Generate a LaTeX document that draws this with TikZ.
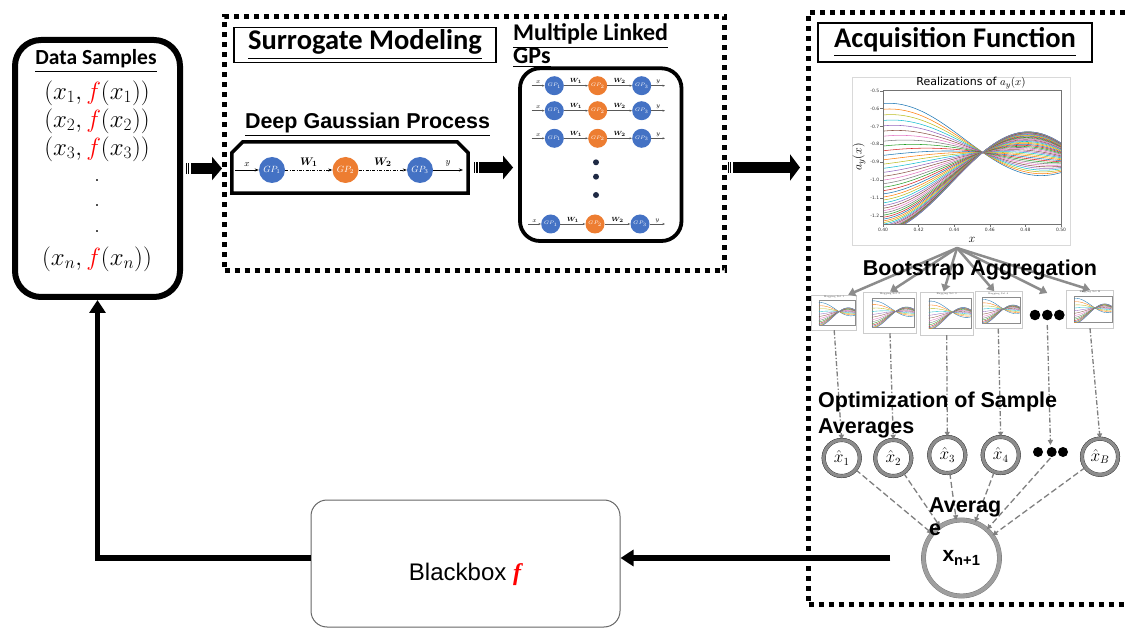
\documentclass[tikz,border=0pt]{standalone}
\usepackage{amsmath,amssymb,bm}
\usepackage{fontspec}
\usetikzlibrary{arrows.meta}
\usetikzlibrary{decorations.markings}

\newfontfamily\calibrifont{Carlito}
\newfontfamily\arialfont{Liberation Sans}
\newfontfamily\timesfont{Liberation Serif}
\newfontfamily\mplfont{DejaVu Sans}

\definecolor{gpblue}{HTML}{4472C4}
\definecolor{gporange}{HTML}{ED7D31}
\definecolor{gpdots}{HTML}{1F2A44}
\definecolor{mpl0}{HTML}{1F77B4}
\definecolor{mpl1}{HTML}{FF7F0E}
\definecolor{mpl2}{HTML}{BCBD22}
\definecolor{mpl3}{HTML}{17BECF}
\definecolor{mpl4}{HTML}{9467BD}
\definecolor{mpl5}{HTML}{8C564B}
\definecolor{mpl6}{HTML}{E377C2}
\definecolor{mpl7}{HTML}{7F7F7F}
\definecolor{mpl8}{HTML}{2CA02C}
\definecolor{mpl9}{HTML}{D62728}

% family of sample curves, all through one point
\newcommand{\realcurves}[2]{%
  \foreach \i in {0,...,#1}{%
    \pgfmathsetmacro\rt{1-(1-\i/#1)^2}%
    \pgfmathsetmacro\rca{-0.189+0.4165*\rt}%
    \pgfmathsetmacro\rcb{0.0725-0.24*\rt}%
    \pgfmathtruncatemacro\rk{mod(\i,10)}%
    \draw[draw=mpl\rk, line width=#2] plot[domain=-1.12:0.88, samples=30, smooth]
      (\x, {\rca*sin(1.837*(\x) r)+\rcb*(1-cos(1.837*(\x) r))});%
  }}

% small bagging chart inside a thumbnail node
\newcommand{\minichart}[4]{%
  \node[font=\fontsize{2.4}{3}\selectfont, text=black!70] at ([yshift=-2.4pt]#1.north) {#4};
  \pgfmathsetmacro\mcx{0.4*#2}
  \pgfmathsetmacro\mcy{0.94*#3}
  \pgfmathsetmacro\mdx{0.108*#2}
  \pgfmathsetmacro\mdy{0.026*#3}
  \begin{scope}[shift={(#1.center)}, xshift=\mdx pt, yshift=\mdy pt, x=\mcx pt, y=\mcy pt]
    \draw[black!45, line width=0.2pt] (-1.12,-0.4007) rectangle (0.88,0.345);
    \clip (-1.12,-0.4007) rectangle (0.88,0.345);
    \realcurves{14}{0.35pt}
  \end{scope}}

\tikzset{
  dashbox/.style={draw, line width=5pt, dash pattern=on 5pt off 5pt},
  titlebox/.style={draw, line width=1.5pt, font=\calibrifont\bfseries\fontsize{28.5}{30}\selectfont},
  calibrihead/.style={font=\calibrifont\bfseries\fontsize{#1}{#1}\selectfont},
  arialhead/.style={font=\arialfont\bfseries\fontsize{21.5}{24}\selectfont},
  sample/.style={font=\fontsize{24}{24}\selectfont},
  gpnode/.style={circle, fill=#1, text=white, minimum size=26pt, font=\fontsize{9}{9}\selectfont},
  smallgp/.style={circle, fill=#1, text=white, minimum size=19pt, font=\fontsize{5.5}{5.5}\selectfont},
  gplink/.style={line width=0.6pt, -{Stealth[length=4pt, width=3pt]}},
  gpdashdot/.style={gplink, dash pattern=on 3pt off 1.5pt on 0.8pt off 1.5pt},
  lglink/.style={draw=black!65, line width=0.5pt, -{Stealth[length=2.5pt, width=2pt]}},
  lgtext/.style={font=\fontsize{6.5}{6.5}\selectfont},
  stripedarrow/.style={line width=11pt, -{Triangle[length=10pt, width=#1]},
    postaction={decorate, decoration={markings,
      mark=at position 1.2pt with {\fill[white] (-0.7pt,-6pt) rectangle (0.7pt,6pt);},
      mark=at position 4pt with {\fill[white] (-0.7pt,-6pt) rectangle (0.7pt,6pt);}}}},
  fanarrow/.style={draw=black!45, line width=2.5pt, -{Triangle[length=7pt, width=9pt]}},
  bagarrow/.style={draw=black!50, line width=1.3pt, dash pattern=on 5pt off 2pt on 1.3pt off 2pt, -{Triangle[length=5pt, width=5pt]}},
  avgarrow/.style={draw=black!50, line width=1.3pt, dash pattern=on 6pt off 3pt, -{Triangle[length=5pt, width=5pt]}},
  xhat/.style={circle, draw=black!75, double=black!45, double distance=3.2pt, fill=white, minimum size=36pt, font=\fontsize{16}{16}\selectfont},
  bigcirc/.style={circle, draw=black!55, double=black!38, double distance=4pt, fill=white, minimum size=76pt},
  thumb/.style={draw=black!20, line width=0.5pt, fill=white},
  fback/.style={line width=5.5pt, -{Triangle[length=13pt, width=16pt]}},
  tick/.style={font=\mplfont\fontsize{4.5}{5}\selectfont, text=black!80},
}

\begin{document}
\begin{tikzpicture}[x=1pt, y=-1pt, every node/.style={inner sep=0pt}]
  \useasboundingbox (0,0) rectangle (1128,628);

  % dashed frames
  \node[dashbox, minimum width=500pt, minimum height=254pt] (surr) at (474.5,143.5) {};
  \node[dashbox, minimum width=332pt, minimum height=592pt] (acq) at (974.5,308.5) {};

  % data samples
  \node[draw, line width=6pt, rounded corners=26pt, minimum width=165pt, minimum height=257pt] (data) at (97.5,168.5) {};
  \node[calibrihead=21.5] (datatitle) at (96,61) {\underline{Data Samples}};
  \foreach \k/\yy in {1/93, 2/121, 3/149}
    \node[sample] (s\k) at (97,\yy) {$(x_{\k},\textcolor{red}{f}(x_{\k}))$};
  \foreach \k/\yy in {1/181, 2/206, 3/232}
    \node[sample] (dot\k) at (97,\yy) {.};
  \node[sample] (sn) at (97,259) {$(x_n,\textcolor{red}{f}(x_n))$};

  % surrogate modeling
  \node[titlebox, minimum width=262pt, minimum height=35pt] (surrtitle) at (365,45) {\underline{Surrogate Modeling}};
  \node[calibrihead=24, anchor=base west] (mlgp1) at (513,40.7) {\underline{Multiple Linked}};
  \node[calibrihead=24, anchor=base west] (mlgp2) at (513,63.3) {\underline{GPs}};
  \node[arialhead] (dgptitle) at (367.5,125) {\underline{Deep Gaussian Process}};

  %% deep gaussian process
  \node[minimum width=236pt, minimum height=51pt] (dgp) at (350,167.5) {};
  \draw[line width=3.5pt, line join=miter] ([yshift=-11pt]dgp.north west) -- ([xshift=11pt]dgp.north west)
    -- ([xshift=-11pt]dgp.north east) -- ([yshift=-11pt]dgp.north east) -- (dgp.south east) -- (dgp.south west) -- cycle;
  \node[gpnode=gpblue] (g1) at (272,170) {$GP_1$};
  \node[gpnode=gporange] (g2) at (345.5,170) {$GP_2$};
  \node[gpnode=gpblue] (g3) at (420,170) {$GP_3$};
  \coordinate (gin) at (235,170);
  \coordinate (gout) at (463,170);
  \draw[gplink] (gin) -- node[above=3pt, font=\fontsize{9}{9}\selectfont] (gxlab) {$x$} (g1);
  \draw[gpdashdot] (g1) -- node[above=3pt, font=\fontsize{11}{11}\selectfont] (gw1) {$\bm{W}_{\bm{1}}$} (g2);
  \draw[gpdashdot] (g2) -- node[above=3pt, font=\fontsize{11}{11}\selectfont] (gw2) {$\bm{W}_{\bm{2}}$} (g3);
  \draw[gplink] (g3) -- node[above=3pt, font=\fontsize{9}{9}\selectfont] (gylab) {$y$} (gout);

  %% multiple linked gps
  \node[draw, line width=3.8pt, rounded corners=20pt, minimum width=161.5pt, minimum height=172.7pt] (linked) at (600.75,154.65) {};
  \foreach \row/\yy/\xi/\xa/\xb/\xc in {1/85.7/531.7/554.3/597.7/641.7, 2/110.7/531.7/554.3/597.7/641.7,
      3/138.3/531.7/554.3/597.7/641.7, 4/224/528/550.7/595/640}{
    \coordinate (lin\row) at (\xi,\yy);
    \node[smallgp=gpblue] (la\row) at (\xa,\yy) {$GP_1$};
    \node[smallgp=gporange] (lb\row) at (\xb,\yy) {$GP_2$};
    \node[smallgp=gpblue] (lc\row) at (\xc,\yy) {$GP_3$};
    \coordinate (lout\row) at (665,\yy);
    \draw[lglink] (lin\row) -- node[above=1.5pt, lgtext] (lx\row) {$x$} (la\row);
    \draw[lglink] (la\row) -- node[above=1.5pt, lgtext] (lw\row) {$\bm{W}_{\bm{1}}$} (lb\row);
    \draw[lglink] (lb\row) -- node[above=1.5pt, lgtext] (lv\row) {$\bm{W}_{\bm{2}}$} (lc\row);
    \draw[lglink] (lc\row) -- node[above=1.5pt, lgtext] (ly\row) {$y$} (lout\row);
  }
  \foreach \yy in {162.3, 176.7, 195}
    \fill[gpdots] (596,\yy) circle (3);

  % block arrows
  \coordinate (a1end) at (surr.west |- data.east);
  \coordinate (a2end) at (linked.west |- dgp.east);
  \coordinate (a3start) at (surr.east |- dgp.east);
  \coordinate (a3end) at (acq.west |- dgp.east);
  \draw[stripedarrow=23pt] ([xshift=3pt]data.east) -- (a1end);
  \draw[stripedarrow=23pt] ([xshift=6pt]dgp.east) -- ([xshift=-5pt]a2end);
  \draw[stripedarrow=26pt] ([xshift=1pt]a3start) -- ([xshift=-6pt]a3end);

  % acquisition function
  \node[titlebox, minimum width=274pt, minimum height=39pt] (acqtitle) at (955,42.5) {\underline{Acquisition Function}};

  %% realizations chart
  \node[draw=black!15, line width=0.8pt, minimum width=218pt, minimum height=168pt] (chart) at (961,161) {};
  \node[font=\mplfont\fontsize{11}{12}\selectfont] (charttitle) at (971,83) {Realizations of $a_y(x)$};
  \begin{scope}[shift={(982.7,152.4)}, x=89pt, y=178.7pt]
    \begin{scope}
      \clip (-1.12,-0.4007) rectangle (0.88,0.345);
      \realcurves{44}{0.55pt}
    \end{scope}
    \draw[black!55, line width=0.6pt] (-1.12,-0.4007) rectangle (0.88,0.345);
    \foreach \lab/\v [count=\n] in {-0.5/0.345, -0.6/0.245, -0.7/0.145, -0.8/0.045,
        -0.9/-0.055, -1.0/-0.155, -1.1/-0.255, -1.2/-0.355}{
      \draw[black!55, line width=0.4pt] (-1.12,\v) -- ++(-0.03,0);
      \node[tick, anchor=east] (yt\n) at (-1.16,\v) {\lab};
    }
    \foreach \lab/\u [count=\n] in {0.40/-1.12, 0.42/-0.72, 0.44/-0.32, 0.46/0.08, 0.48/0.48, 0.50/0.88}{
      \draw[black!55, line width=0.4pt] (\u,-0.4007) -- ++(0,-0.015);
      \node[tick, anchor=north] (xt\n) at (\u,-0.425) {\lab};
    }
  \end{scope}
  \node[font=\fontsize{13}{13}\selectfont, rotate=90] (chartylab) at (859,157) {$a_y(x)$};
  \node[font=\fontsize{12}{12}\selectfont] (chartxlab) at (972,240) {$x$};

  %% bootstrap aggregation
  \node[thumb, minimum width=45pt, minimum height=35pt] (th1) at (834.2,312.5) {};
  \node[thumb, minimum width=53pt, minimum height=41pt] (th2) at (890,312.5) {};
  \node[thumb, minimum width=53pt, minimum height=43pt] (th3) at (946.7,313.3) {};
  \node[thumb, minimum width=47pt, minimum height=37pt] (th4) at (998.3,310) {};
  \node[thumb, minimum width=47pt, minimum height=38pt] (th5) at (1090,309) {};
  \coordinate (thdots) at (1047.3,315);
  \coordinate (fan) at (957,248);
  \draw[fanarrow] (fan) -- ([xshift=14pt]th1.north);
  \draw[fanarrow] (fan) -- (th2.north);
  \draw[fanarrow] (fan) -- ([xshift=-3pt]th3.north);
  \draw[fanarrow] (fan) -- ([xshift=-4pt]th4.north);
  \draw[fanarrow] (fan) -- ([yshift=22pt]thdots);
  \draw[fanarrow] (fan) -- (th5.north);
  \node[arialhead, anchor=base] (bagtitle) at (980,276) {Bootstrap Aggregation};
  \minichart{th1}{45}{35}{Bagging Set 1}
  \minichart{th2}{53}{41}{Bagging Set 2}
  \minichart{th3}{53}{43}{Bagging Set 3}
  \minichart{th4}{47}{37}{Bagging Set 4}
  \minichart{th5}{47}{38}{Bagging Set B}
  \foreach \xx in {1035, 1047.3, 1059.3}
    \fill (\xx,315) circle (5.3);

  %% optimization of sample averages
  \node[xhat] (h1) at (841.7,458) {$\hat{x}_1$};
  \node[xhat] (h2) at (893.3,458) {$\hat{x}_2$};
  \node[xhat] (h3) at (947.3,455) {$\hat{x}_3$};
  \node[xhat] (h4) at (1000.7,455) {$\hat{x}_4$};
  \node[xhat] (hB) at (1100,456.7) {$\hat{x}_B$};
  \coordinate (hdots) at (1050.5,452);
  \draw[bagarrow] (th1.south) -- (h1.north);
  \draw[bagarrow] (th2.south) -- (h2.north);
  \draw[bagarrow] (th3.south) -- (h3.north);
  \draw[bagarrow] (th4.south) -- (h4.north);
  \draw[bagarrow] ([yshift=-10pt]thdots) -- ([yshift=7pt]hdots);
  \draw[bagarrow] (th5.south) -- (hB.north);
  \node[arialhead, anchor=base west] (opt1) at (818,407) {Optimization of Sample};
  \node[arialhead, anchor=base west] (opt2) at (818,433) {Averages};
  % circles again on top of the text
  \node[xhat] at (h1) {$\hat{x}_1$};
  \node[xhat] at (h2) {$\hat{x}_2$};
  \node[xhat] at (h3) {$\hat{x}_3$};
  \node[xhat] at (h4) {$\hat{x}_4$};
  \node[xhat] at (hB) {$\hat{x}_B$};
  \foreach \xx in {1038, 1051.7, 1063}
    \fill (\xx,452) circle (5);

  %% average
  \node[bigcirc] (xn) at (961.5,558) {};
  \node[font=\arialfont\bfseries\fontsize{21}{21}\selectfont] (xnlab) at (xn) {x\textsubscript{n+1}};
  \foreach \h in {h1,h2,h3,h4,hB}
    \draw[avgarrow] (\h) -- (xn);
  \draw[avgarrow] ([yshift=-6pt]hdots) -- (xn);
  \node[arialhead, anchor=base west] (avg1) at (929,512) {Averag};
  \node[arialhead, anchor=base west] (avg2) at (929,535) {e};

  % blackbox and feedback loop
  \node[draw=black!60, line width=1pt, rounded corners=16pt, minimum width=309pt, minimum height=127pt] (bbox) at (465.5,563.5) {};
  \node[font=\arialfont\fontsize{24}{24}\selectfont, anchor=base] (bbtext) at (465,580)
    {Blackbox {\timesfont\bfseries\itshape\textcolor{red}{f}}};
  \coordinate (ret) at ([xshift=-33pt]xn.west);
  \coordinate (retend) at (bbox.east |- ret);
  \coordinate (retstart) at (bbox.west |- ret);
  \draw[fback] (ret) -- (retend);
  \draw[fback] (retstart) -| (data.south);
\end{tikzpicture}
\end{document}
